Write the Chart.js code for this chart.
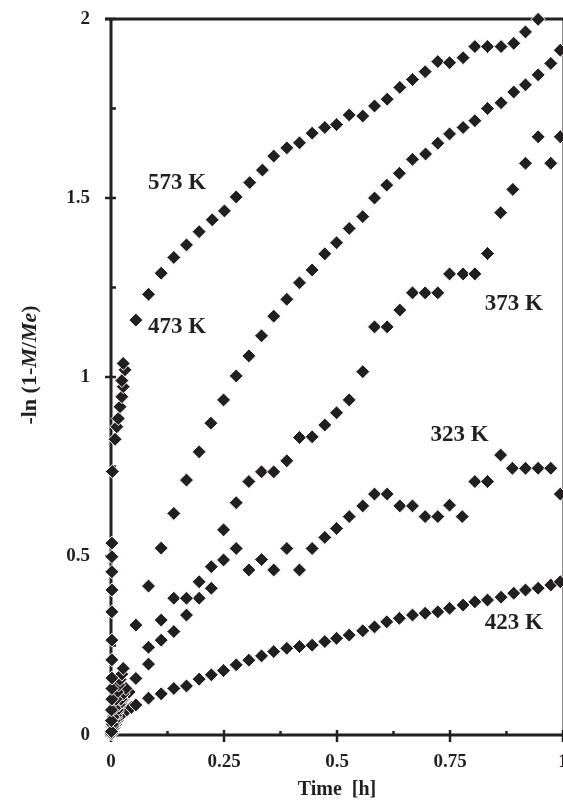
<!DOCTYPE html>
<html>
<head>
<meta charset="utf-8">
<script src="https://cdn.jsdelivr.net/npm/chart.js@4.4.1/dist/chart.umd.min.js"></script>
<style>
  html, body { margin: 0; padding: 0; background: #fff; }
</style>
</head>
<body>
<canvas id="chart" width="563" height="805"></canvas>
<script>
// sorption data, time in hours, -ln(1-M/Me)
const t573 = [0.001, 0.001, 0.001, 0.002, 0.002, 0.002, 0.002, 0.002, 0.002, 0.002, 0.002, 0.002, 0.002, 0.003, 0.009, 0.013, 0.016, 0.020, 0.024, 0.027, 0.024, 0.031, 0.027,
  0.055, 0.083, 0.111, 0.139, 0.167, 0.195, 0.224, 0.251, 0.277, 0.307, 0.335, 0.360, 0.389, 0.417, 0.445, 0.473, 0.499,
  0.527, 0.557, 0.583, 0.611, 0.639, 0.667, 0.695, 0.723, 0.749, 0.779, 0.805, 0.833, 0.863, 0.891, 0.917, 0.945];
const v573 = [0.01, 0.04, 0.07, 0.10, 0.13, 0.159, 0.21, 0.265, 0.344, 0.405, 0.456, 0.498, 0.536, 0.736, 0.826, 0.861, 0.884, 0.917, 0.945, 0.973, 0.99, 1.02, 1.038,
  1.159, 1.231, 1.290, 1.334, 1.369, 1.406, 1.439, 1.464, 1.503, 1.543, 1.578, 1.617, 1.640, 1.654, 1.681, 1.697, 1.705,
  1.732, 1.729, 1.757, 1.776, 1.809, 1.831, 1.853, 1.881, 1.878, 1.892, 1.923, 1.923, 1.923, 1.932, 1.964, 1.999];

const t473 = [0.001, 0.003, 0.005, 0.008, 0.011, 0.014, 0.017, 0.020, 0.024, 0.027, 0.055, 0.083, 0.111, 0.139, 0.167, 0.195, 0.221, 0.249, 0.277,
  0.305, 0.333, 0.360, 0.389, 0.417, 0.445, 0.473, 0.499, 0.527, 0.557, 0.583, 0.610, 0.638, 0.667, 0.696, 0.723,
  0.749, 0.779, 0.805, 0.833, 0.863, 0.891, 0.917, 0.945, 0.973, 0.994];
const v473 = [0.01, 0.03, 0.05, 0.075, 0.10, 0.12, 0.14, 0.155, 0.17, 0.186, 0.307, 0.416, 0.522, 0.619, 0.712, 0.791, 0.871, 0.936, 1.003,
  1.059, 1.115, 1.170, 1.217, 1.263, 1.299, 1.344, 1.375, 1.415, 1.448, 1.500, 1.536, 1.569, 1.608, 1.623, 1.653,
  1.679, 1.697, 1.716, 1.750, 1.766, 1.796, 1.816, 1.844, 1.876, 1.913];

const t373 = [0.001, 0.004, 0.007, 0.010, 0.014, 0.018, 0.022, 0.027, 0.033, 0.055, 0.083, 0.111, 0.139, 0.167, 0.195, 0.222, 0.249, 0.277,
  0.305, 0.333, 0.360, 0.389, 0.417, 0.445, 0.473, 0.499, 0.527, 0.557, 0.583, 0.611, 0.639, 0.667, 0.695, 0.723,
  0.749, 0.779, 0.805, 0.833, 0.862, 0.889, 0.917, 0.945, 0.973, 0.994];
const v373 = [0.01, 0.025, 0.04, 0.055, 0.07, 0.085, 0.10, 0.115, 0.13, 0.158, 0.245, 0.321, 0.382, 0.382, 0.428, 0.470, 0.573, 0.649,
  0.708, 0.735, 0.735, 0.766, 0.831, 0.833, 0.866, 0.900, 0.936, 1.015, 1.140, 1.140, 1.187, 1.235, 1.235, 1.235,
  1.288, 1.288, 1.288, 1.345, 1.459, 1.524, 1.597, 1.671, 1.597, 1.671];

const t323 = [0.001, 0.004, 0.007, 0.010, 0.014, 0.018, 0.022, 0.027, 0.033, 0.040, 0.083, 0.111, 0.139, 0.167, 0.195, 0.222, 0.249, 0.277,
  0.305, 0.333, 0.360, 0.389, 0.417, 0.445, 0.473, 0.499, 0.527, 0.557, 0.583, 0.611, 0.639, 0.667, 0.695, 0.723,
  0.749, 0.777, 0.805, 0.833, 0.862, 0.888, 0.917, 0.945, 0.973, 0.994];
const v323 = [0.005, 0.02, 0.035, 0.05, 0.065, 0.08, 0.09, 0.10, 0.11, 0.12, 0.198, 0.265, 0.289, 0.335, 0.382, 0.410, 0.489, 0.521,
  0.461, 0.490, 0.461, 0.521, 0.461, 0.521, 0.552, 0.577, 0.610, 0.640, 0.673, 0.673, 0.640, 0.640, 0.610, 0.610,
  0.642, 0.610, 0.708, 0.708, 0.782, 0.745, 0.745, 0.745, 0.745, 0.673];

const t423 = [0.001, 0.004, 0.007, 0.010, 0.014, 0.018, 0.022, 0.027, 0.035, 0.045, 0.055, 0.083, 0.111, 0.139, 0.167, 0.195, 0.222, 0.249, 0.277,
  0.305, 0.333, 0.360, 0.389, 0.417, 0.445, 0.473, 0.499, 0.527, 0.557, 0.583, 0.610, 0.638, 0.667, 0.695, 0.723,
  0.749, 0.779, 0.805, 0.833, 0.863, 0.891, 0.917, 0.945, 0.973, 0.994];
const v423 = [0.003, 0.01, 0.02, 0.03, 0.04, 0.05, 0.055, 0.062, 0.07, 0.077, 0.084, 0.103, 0.115, 0.130, 0.137, 0.156, 0.168, 0.180, 0.196,
  0.209, 0.221, 0.233, 0.242, 0.247, 0.251, 0.261, 0.270, 0.279, 0.291, 0.302, 0.316, 0.326, 0.335, 0.340, 0.344,
  0.354, 0.363, 0.372, 0.377, 0.385, 0.396, 0.405, 0.410, 0.419, 0.428];

// axis tick labels
const xTicks = [0, 0.25, 0.5, 0.75, 1];
const xTickLabels = ['0', '0.25', '0.5', '0.75', '1'];
const yTicks = [0, 0.5, 1, 1.5, 2];
const yTickLabels = ['0', '0.5', '1', '1.5', '2'];

// curve labels: text, left edge (h), vertical centre
const labelText = ['573 K', '473 K', '373 K', '323 K', '423 K'];
const labelX = [0.082, 0.082, 0.827, 0.707, 0.827];
const labelY = [1.542, 1.140, 1.204, 0.838, 0.313];

const INK = '#231f20';
const SERIF = '"Liberation Serif", "Times New Roman", serif';

const toPoints = (ts, vs) => ts.map((t, i) => ({ x: t, y: vs[i] }));

const series = [[t573, v573], [t473, v473], [t373, v373], [t323, v323], [t423, v423]];

const frame = {
  id: 'frame',
  beforeDatasetsDraw(chart) {
    const { ctx, chartArea: { left, right, top, bottom }, scales: { x, y } } = chart;
    ctx.save();
    ctx.lineCap = 'butt';

    // thin right edge
    ctx.strokeStyle = '#8a8a8a';
    ctx.lineWidth = 1;
    ctx.beginPath();
    ctx.moveTo(right - 0.5, top);
    ctx.lineTo(right - 0.5, bottom);
    ctx.stroke();

    ctx.strokeStyle = INK;
    ctx.lineWidth = 3;
    ctx.beginPath();
    ctx.moveTo(left - 6, top);
    ctx.lineTo(right, top);
    ctx.moveTo(left, top);
    ctx.lineTo(left, bottom);
    ctx.moveTo(left, bottom);
    ctx.lineTo(right, bottom);
    ctx.stroke();

    ctx.lineWidth = 2.5;
    ctx.beginPath();
    for (let v = 0; v <= 2.0001; v += 0.25) {
      const py = y.getPixelForValue(v);
      const major = Math.abs(v * 2 - Math.round(v * 2)) < 1e-6;
      ctx.moveTo(major ? left - 6 : left, py);
      ctx.lineTo(left + 5, py);
    }
    for (let v = 0; v <= 1.0001; v += 0.125) {
      const px = x.getPixelForValue(v);
      const major = Math.abs(v * 4 - Math.round(v * 4)) < 1e-6;
      ctx.moveTo(px, bottom - (major ? 5 : 4));
      ctx.lineTo(px, major ? bottom + 7 : bottom);
    }
    ctx.stroke();
    ctx.restore();
  },
  afterDatasetsDraw(chart) {
    const { ctx, scales: { x, y } } = chart;
    ctx.save();
    ctx.fillStyle = INK;
    ctx.font = 'bold 23px ' + SERIF;
    ctx.textAlign = 'left';
    ctx.textBaseline = 'middle';
    labelText.forEach((txt, i) => {
      ctx.fillText(txt, x.getPixelForValue(labelX[i]), y.getPixelForValue(labelY[i]));
    });
    ctx.restore();
  },
  afterDraw(chart) {
    // y title with italic M and Me
    const { ctx } = chart;
    const parts = [
      ['-ln (1-', 'bold'],
      ['M', 'italic bold'],
      ['/', 'bold'],
      ['Me', 'italic bold'],
      [')', 'bold'],
    ];
    ctx.save();
    ctx.fillStyle = INK;
    ctx.textBaseline = 'middle';
    ctx.textAlign = 'left';
    let total = 0;
    parts.forEach(([s, f]) => { ctx.font = f + ' 22px ' + SERIF; total += ctx.measureText(s).width; });
    ctx.translate(30, 365);
    ctx.rotate(-Math.PI / 2);
    let cx = -total / 2;
    parts.forEach(([s, f]) => {
      ctx.font = f + ' 22px ' + SERIF;
      ctx.fillText(s, cx, 0);
      cx += ctx.measureText(s).width;
    });
    ctx.restore();
  },
};

const tickFont = { family: SERIF, size: 19, weight: 'bold' };

new Chart(document.getElementById('chart'), {
  type: 'scatter',
  data: {
    datasets: series.map(([ts, vs]) => ({
      data: toPoints(ts, vs),
      pointStyle: 'rectRot',
      pointRadius: 7,
      pointBackgroundColor: INK,
      pointBorderColor: '#ffffff',
      pointBorderWidth: 1,
      showLine: false,
      clip: false,
    })),
  },
  options: {
    responsive: false,
    animation: false,
    events: [],
    devicePixelRatio: 1,
    layout: { autoPadding: false, padding: { top: 19, right: 0, bottom: 0, left: 0 } },
    plugins: { legend: { display: false }, tooltip: { enabled: false } },
    scales: {
      x: {
        type: 'linear',
        min: 0,
        max: 1,
        afterBuildTicks(s) { s.ticks = xTicks.map(v => ({ value: v })); },
        afterFit(s) { s.height = 70; s.paddingLeft = 0; s.paddingRight = 0; },
        grid: { display: false, drawTicks: false },
        border: { display: false },
        ticks: {
          padding: 16, color: INK, font: tickFont, maxRotation: 0, autoSkip: false,
          callback: v => xTickLabels[xTicks.indexOf(v)],
        },
        title: { display: true, text: 'Time  [h]', color: INK, font: { family: SERIF, size: 20, weight: 'bold' }, padding: { top: 0, bottom: 3 } },
      },
      y: {
        type: 'linear',
        min: 0,
        max: 2,
        afterBuildTicks(s) { s.ticks = yTicks.map(v => ({ value: v })); },
        afterFit(s) { s.width = 111; s.paddingTop = 0; s.paddingBottom = 0; },
        grid: { display: false, drawTicks: false },
        border: { display: false },
        ticks: {
          padding: 21, color: INK, font: tickFont, autoSkip: false,
          callback: v => yTickLabels[yTicks.indexOf(v)],
        },
      },
    },
  },
  plugins: [frame],
});
</script>
</body>
</html>
